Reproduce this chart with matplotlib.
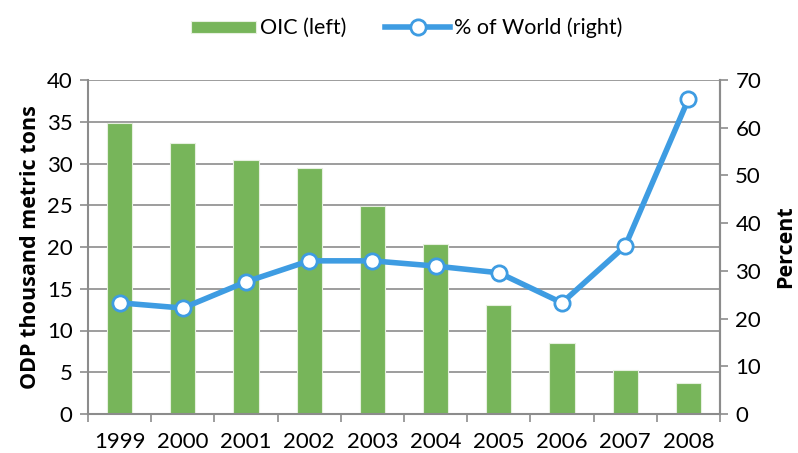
import matplotlib
matplotlib.use("Agg")
import matplotlib.pyplot as plt
import numpy as np

years = ["1999", "2000", "2001", "2002", "2003", "2004", "2005", "2006", "2007", "2008"]
oic_tons = [34.8, 32.5, 30.4, 29.5, 24.9, 20.3, 13.0, 8.5, 5.3, 3.7]
pct_world = [23.3, 22.2, 27.7, 32.1, 32.1, 31.0, 29.6, 23.3, 35.2, 66.0]

plt.rcParams['font.family'] = ['Lato', 'DejaVu Sans']
grey = "#8c8c8c"
green = "#77b55a"
blue = "#3e9ce2"

fig = plt.figure(figsize=(7.98, 4.53), dpi=100)
ax = fig.add_axes([88 / 798, 1 - 414 / 453, (720 - 88) / 798, (414 - 80) / 453])
x = np.arange(len(years))

bars = ax.bar(x, oic_tons, width=0.4, color=green, edgecolor="#e6f0df",
              linewidth=0.8, zorder=2, label="OIC (left)")
ax.set_xlim(-0.5, len(years) - 0.5)
ax.set_ylim(0, 40)
ax.set_yticks(range(0, 41, 5))
ax.grid(axis="y", color=grey, linewidth=1.2, zorder=0)
ax.set_axisbelow(True)
ax.set_xticks(x)
ax.set_xticklabels(years)
ax.set_xticks(np.arange(-0.5, len(years)), minor=True)
ax.tick_params(axis="x", which="major", length=0, pad=13, labelsize=16)
ax.tick_params(axis="x", which="minor", length=6, width=1.2, color=grey)
ax.tick_params(axis="y", length=6, width=1.2, color=grey, labelsize=16, pad=5)
for s in ["left", "bottom", "right"]:
    ax.spines[s].set_color(grey)
    ax.spines[s].set_linewidth(1.5)
ax.spines["top"].set_visible(False)
ax.set_ylabel("ODP thousand metric tons", fontsize=15.5, fontweight="bold",
              family=["Open Sans", "DejaVu Sans"], labelpad=4)

ax2 = ax.twinx()
line, = ax2.plot(x, pct_world, color=blue, linewidth=4, marker="o", markersize=11,
                 markerfacecolor="white", markeredgecolor=blue, markeredgewidth=2,
                 zorder=3, label="% of World (right)")
ax2.set_ylim(0, 70)
ax2.set_yticks(range(0, 71, 10))
ax2.tick_params(axis="y", length=6, width=1.2, color=grey, labelsize=16, pad=5)
for s in ["left", "bottom", "top"]:
    ax2.spines[s].set_visible(False)
ax2.spines["right"].set_color(grey)
ax2.spines["right"].set_linewidth(1.5)
ax2.set_ylabel("Percent", fontsize=15.5, fontweight="bold",
               family=["Open Sans", "DejaVu Sans"], labelpad=10)

fig.legend([bars, line], ["OIC (left)", "% of World (right)"], loc="center",
           bbox_to_anchor=(0.51, 1 - 28 / 453), ncol=2, frameon=False,
           fontsize=15.5, handlelength=3.0, handleheight=0.5, columnspacing=1.8,
           handletextpad=0.2)

fig.savefig("out.png", dpi=100)
